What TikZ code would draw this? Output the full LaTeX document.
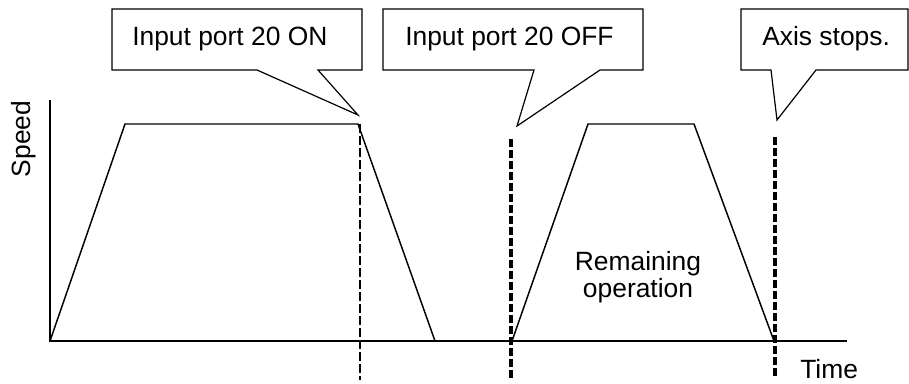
\documentclass[tikz,border=0pt]{standalone}
\usepackage{fontspec}
\setmainfont{Liberation Sans}
\usepackage{tikz}
\usetikzlibrary{calc}

\tikzset{
  callout/.style={draw=black, line width=0.9pt, fill=white, line join=miter},
  profile/.style={draw=black, line width=1.1pt},
  markthin/.style={draw=black, line width=1.0pt, dash pattern=on 6.75pt off 2.25pt},
  markthick/.style={draw=black, line width=2.4pt, dash pattern=on 6pt off 2.25pt},
  labelfont/.style={font=\fontsize{19.8}{20.25}\selectfont, inner sep=0pt}
}

\begin{document}
\begin{tikzpicture}[x=0.75pt,y=0.75pt,yscale=-1,xscale=1]
\useasboundingbox (0,0) rectangle (909,383);

%Named points
\coordinate (origin) at (50,341);
\coordinate (tipOn) at (358,115);
\coordinate (tipOff) at (517,126);
\coordinate (tipStop) at (777,120);

%Axes
\draw [profile] (50,100) -- (origin) -- (847,341);

%Dashed markers
\draw [markthin] (360,124) -- (360,380);
\draw [markthick] (511,139) -- (511,380);
\draw [markthick] (775,137) -- (775,377);

%Speed profile: first run
\draw [profile] (origin) -- (125,124) -- (358,124) -- (435,341);
%Speed profile: remaining operation
\draw [profile] (512,341) -- (588,124) -- (694,124) -- (774,341);

%Callout: port ON
\draw [callout] (112,9) -- (362,9) -- (362,70) -- (318,70) -- (tipOn) -- (257,70) -- (112,70) -- cycle;
%Callout: port OFF
\draw [callout] (383,9) -- (643,9) -- (643,70) -- (600,70) -- (tipOff) -- (534,70) -- (383,70) -- cycle;
%Callout: axis stops
\draw [callout] (741,9) -- (908,9) -- (908,70) -- (816,70) -- (tipStop) -- (771,70) -- (741,70) -- cycle;

% Text Node
\node (txtOn) [labelfont, anchor=base west] at (132,45) {Input port 20 ON};
% Text Node
\node (txtOff) [labelfont, anchor=base west] at (405,45) {Input port 20 OFF};
% Text Node
\node (txtStop) [labelfont, anchor=base west] at (762,45) {Axis stops.};
% Text Node
\node (txtSpeed) [labelfont, anchor=base, rotate=90] at (30,139) {Speed};
% Text Node
\node (txtTime) [labelfont, anchor=base west] at (800,378) {Time};
% Text Node
\node (txtRemain) [labelfont, anchor=north, align=center] at (638,251) {Remaining\\operation};

\end{tikzpicture}
\end{document}
